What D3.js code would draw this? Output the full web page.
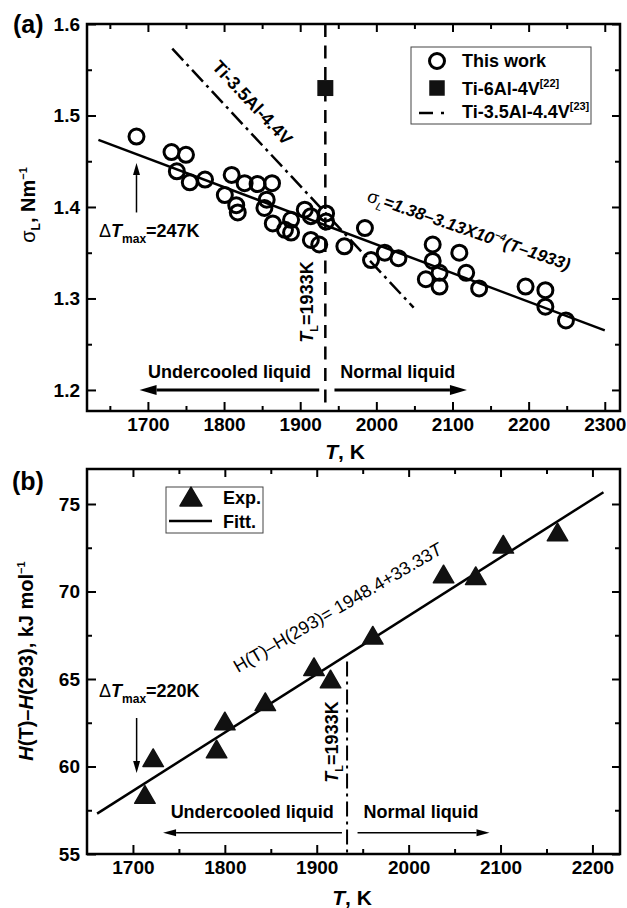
<!DOCTYPE html>
<html><head><meta charset="utf-8">
<script src="https://cdn.jsdelivr.net/npm/d3@7"></script>
<style>body{margin:0;background:#fff} text{font-family:"Liberation Sans",Arial,sans-serif}</style>
</head><body><svg id="c" width="627" height="908"></svg>
<script>
// ---------- Panel (a) data ----------
const circT = [1685,1731,1750,1738,1755,1775,1810,1801,1827,1844,1816,1818,1863,1856,1853,1864,1888,1880,1888,1906,1914,1934,1934,1914,1925,1958,1985,1993,2011,2029,2074,2074,2065,2083,2083,2109,2118,2135,2196,2222,2222,2249];
const circS = [1.477,1.460,1.457,1.439,1.427,1.430,1.435,1.413,1.426,1.425,1.402,1.394,1.426,1.408,1.399,1.382,1.386,1.375,1.372,1.397,1.390,1.393,1.384,1.364,1.359,1.357,1.377,1.342,1.350,1.344,1.359,1.341,1.321,1.328,1.313,1.350,1.328,1.311,1.313,1.309,1.291,1.276];
const ti64T = [1933];
const ti64S = [1.53];
const ti35LineT = [1732, 2049];
const ti35LineS = [1.573, 1.290];
const fitALineT = [1635, 2300];
const fitA0 = 1.38, fitASlope = -3.13e-4, fitARef = 1933;
const TL = 1933;
const xTicksA = [1700,1800,1900,2000,2100,2200,2300];
const xMinorA = [1650,1750,1850,1950,2050,2150,2250];
const yTicksA = [1.2,1.3,1.4,1.5,1.6];
const yMinorA = [1.25,1.35,1.45,1.55];

// ---------- Panel (b) data ----------
const expT = [1713,1722,1791,1800,1844,1897,1915,1961,2038,2073,2103,2162];
const expH = [58.4,60.5,61.0,62.6,63.7,65.7,65.0,67.5,71.0,70.9,72.7,73.4];
const fitBLineT = [1661, 2212];
const fitB0 = 1.9484, fitBSlope = 0.03333; // kJ/mol
const xTicksB = [1700,1800,1900,2000,2100,2200];
const xMinorB = [1750,1850,1950,2050,2150];
const yTicksB = [55,60,65,70,75];
const yMinorB = [57.5,62.5,67.5,72.5];

const svg = d3.select("#c");
const FONT = '"Liberation Sans",Arial,sans-serif';

function frame(g, x, y, xMaj, xMin, yMaj, yMin, yFmt) {
  const [x0, x1] = x.range(), [y0, y1] = y.range();
  const style = s => s.call(a => a.select(".domain").remove())
    .attr("font-size", 19).attr("font-weight", "bold").attr("font-family", FONT)
    .call(a => a.selectAll("line").attr("stroke-width", 2));
  g.append("g").attr("transform", `translate(0,${y0})`)
    .call(d3.axisBottom(x).tickValues(xMaj).tickSize(-9).tickPadding(7).tickFormat(d3.format("d"))).call(style);
  g.append("g").attr("transform", `translate(0,${y0})`)
    .call(d3.axisBottom(x).tickValues(xMin).tickSize(-5).tickFormat("")).call(style);
  g.append("g").attr("transform", `translate(0,${y1})`)
    .call(d3.axisTop(x).tickValues(xMaj).tickSize(-8).tickFormat("")).call(style);
  g.append("g").attr("transform", `translate(0,${y1})`)
    .call(d3.axisTop(x).tickValues(xMin).tickSize(-5).tickFormat("")).call(style);
  g.append("g").attr("transform", `translate(${x0},0)`)
    .call(d3.axisLeft(y).tickValues(yMaj).tickSize(-9).tickPadding(7).tickFormat(yFmt)).call(style);
  g.append("g").attr("transform", `translate(${x0},0)`)
    .call(d3.axisLeft(y).tickValues(yMin).tickSize(-5).tickFormat("")).call(style);
  g.append("g").attr("transform", `translate(${x1},0)`)
    .call(d3.axisRight(y).tickValues(yMaj).tickSize(-8).tickFormat("")).call(style);
  g.append("g").attr("transform", `translate(${x1},0)`)
    .call(d3.axisRight(y).tickValues(yMin).tickSize(-5).tickFormat("")).call(style);
  g.append("rect").attr("x", x0).attr("y", y1).attr("width", x1 - x0).attr("height", y0 - y1)
    .attr("fill", "none").attr("stroke", "#000").attr("stroke-width", 2.5);
}

function rich(g, x, y, rot, parts, anchor) {
  const t = g.append("text").attr("transform", `translate(${x},${y}) rotate(${rot})`)
    .attr("text-anchor", anchor || "start").attr("fill", "#000");
  parts.forEach(p => {
    const s = t.append("tspan").text(p.t)
      .attr("font-size", p.size || 18)
      .attr("font-weight", p.w || "bold")
      .attr("font-style", p.i ? "italic" : "normal");
    if (p.dy) s.attr("dy", p.dy);
  });
  return t;
}

function arrow(g, x1, y1, x2, y2, lw, hl, hw) {
  const a = Math.atan2(y2 - y1, x2 - x1);
  const bx = x2 - hl * Math.cos(a), by = y2 - hl * Math.sin(a);
  g.append("line").attr("x1", x1).attr("y1", y1).attr("x2", bx).attr("y2", by)
    .attr("stroke", "#000").attr("stroke-width", lw);
  const px = -Math.sin(a) * hw, py = Math.cos(a) * hw;
  g.append("path").attr("d", `M${x2},${y2}L${bx + px},${by + py}L${bx - px},${by - py}Z`).attr("fill", "#000");
}

// ================= Panel (a) =================
const xA = d3.scaleLinear().domain([1620, 2320]).range([87, 620]);
const yA = d3.scaleLinear().domain([1.177, 1.6]).range([411, 24]);
const gA = svg.append("g");
frame(gA, xA, yA, xTicksA, xMinorA, yTicksA, yMinorA, d3.format(".1f"));

// T_L dashed vertical
gA.append("line").attr("x1", xA(TL)).attr("x2", xA(TL)).attr("y1", yA(1.6)).attr("y2", yA(1.177))
  .attr("stroke", "#000").attr("stroke-width", 2.5).attr("stroke-dasharray", "13,8.5");

// Ti-3.5Al-4.4V dash-dot line
gA.append("path").datum(d3.zip(ti35LineT, ti35LineS))
  .attr("d", d3.line().x(d => xA(d[0])).y(d => yA(d[1])))
  .attr("stroke", "#000").attr("stroke-width", 2.5).attr("fill", "none").attr("stroke-dasharray", "16,5,3,5");

// fit line
gA.append("path").datum(fitALineT.map(t => [t, fitA0 + fitASlope * (t - fitARef)]))
  .attr("d", d3.line().x(d => xA(d[0])).y(d => yA(d[1])))
  .attr("stroke", "#000").attr("stroke-width", 2.5).attr("fill", "none");

// circles
gA.selectAll("circle.d").data(d3.zip(circT, circS)).join("circle").attr("class", "d")
  .attr("cx", d => xA(d[0])).attr("cy", d => yA(d[1])).attr("r", 7.5)
  .attr("fill", "none").attr("stroke", "#000").attr("stroke-width", 3);

// Ti-6Al-4V square
gA.selectAll("path.sq").data(d3.zip(ti64T, ti64S)).join("path").attr("class", "sq")
  .attr("transform", d => `translate(${xA(d[0])},${yA(d[1])})`)
  .attr("d", d3.symbol(d3.symbolSquare, 256)).attr("fill", "#111");

// Legend (a)
gA.append("rect").attr("x", 411).attr("y", 47).attr("width", 180).attr("height", 77)
  .attr("fill", "#fff").attr("stroke", "#444").attr("stroke-width", 1);
gA.append("circle").attr("cx", 437).attr("cy", 61).attr("r", 7.5).attr("fill", "none").attr("stroke", "#000").attr("stroke-width", 3);
rich(gA, 462, 66.7, 0, [{t: "This work"}]);
gA.append("path").attr("transform", "translate(437,88)").attr("d", d3.symbol(d3.symbolSquare, 240)).attr("fill", "#111");
rich(gA, 462, 95, 0, [{t: "Ti-6Al-4V"}, {t: "[22]", size: 11, dy: -8}]);
gA.append("line").attr("x1", 419).attr("x2", 433).attr("y1", 113).attr("y2", 113).attr("stroke", "#000").attr("stroke-width", 2.5);
gA.append("line").attr("x1", 441).attr("x2", 444).attr("y1", 113).attr("y2", 113).attr("stroke", "#000").attr("stroke-width", 2.5);
rich(gA, 462, 117.7, 0, [{t: "Ti-3.5Al-4.4V"}, {t: "[23]", size: 11, dy: -8}]);

// annotations (a)
rich(gA, 248, 107, 47, [{t: "Ti-3.5Al-4.4V", size: 18}], "middle");
rich(gA, 366, 201, 19, [
  {t: "σ", size: 18, w: "normal"}, {t: "L", size: 11, dy: 5, w: "normal", i: true},
  {t: "=1.38–3.13X10", size: 17, dy: -5, i: true}, {t: "−4", size: 10, dy: -7, i: true},
  {t: "(", size: 17, dy: 7, i: true}, {t: "T", size: 17, i: true}, {t: "–1933)", size: 17, i: true}
]);
rich(gA, 99, yA(1.209) + 0, 0, []).remove();
rich(gA, 99, 236.7, 0, [
  {t: "Δ", size: 18, w: "normal"}, {t: "T", size: 18, i: true},
  {t: "max", size: 12, dy: 6}, {t: "=247K", size: 18, dy: -6}
]);
arrow(gA, xA(1685), yA(1.394), xA(1685), yA(1.448), 1.5, 12, 3.5);
rich(gA, 313, 302, -90, [
  {t: "T", size: 18, i: true}, {t: "L", size: 11, dy: 5}, {t: "=1933K", size: 18, dy: -5}
], "middle");
rich(gA, xA(1700), yA(1.2135), 0, [{t: "Undercooled liquid"}]);
rich(gA, xA(1952.5), yA(1.2135), 0, [{t: "Normal liquid"}]);
arrow(gA, xA(1925), yA(1.2), xA(1689), yA(1.2), 3, 17, 5);
arrow(gA, xA(1945), yA(1.2), xA(2119), yA(1.2), 3, 17, 5);

// axis titles (a)
rich(gA, 35, 205, -90, [
  {t: "σ", size: 20, w: "normal"}, {t: "L", size: 12, dy: 5}, {t: ", Nm", size: 20, dy: -5},
  {t: "−1", size: 11, dy: -8}
], "middle");
rich(gA, 345, 459, 0, [{t: "T", size: 21, i: true}, {t: ", K", size: 21}], "middle");
rich(gA, 13, 33, 0, [{t: "(a)", size: 25}]);

// ================= Panel (b) =================
const xB = d3.scaleLinear().domain([1650, 2230]).range([87, 620]);
const yB = d3.scaleLinear().domain([55, 77]).range([854, 469]);
const gB = svg.append("g");
frame(gB, xB, yB, xTicksB, xMinorB, yTicksB, yMinorB, d3.format("d"));

// T_L dash-dot vertical
gB.append("line").attr("x1", xB(TL)).attr("x2", xB(TL)).attr("y1", yB(66.0)).attr("y2", yB(55))
  .attr("stroke", "#000").attr("stroke-width", 2).attr("stroke-dasharray", "15,5,3,5");

// fit line
gB.append("path").datum(fitBLineT.map(t => [t, fitB0 + fitBSlope * t]))
  .attr("d", d3.line().x(d => xB(d[0])).y(d => yB(d[1])))
  .attr("stroke", "#000").attr("stroke-width", 2.5).attr("fill", "none");

// triangles
const tri = {draw(ctx, size) { const w = size / 2, h = size * 0.43;
  ctx.moveTo(0, -h); ctx.lineTo(w, h); ctx.lineTo(-w, h); ctx.closePath(); }};
gB.selectAll("path.tri").data(d3.zip(expT, expH)).join("path").attr("class", "tri")
  .attr("transform", d => `translate(${xB(d[0])},${yB(d[1])})`)
  .attr("d", d3.symbol(tri, 20.5)).attr("fill", "#111").attr("stroke", "#111")
  .attr("stroke-width", 1.5).attr("stroke-linejoin", "round");

// Legend (b)
gB.append("rect").attr("x", 166).attr("y", 487).attr("width", 97).attr("height", 46)
  .attr("fill", "none").attr("stroke", "#444").attr("stroke-width", 1);
gB.append("path").attr("transform", "translate(191,496.5)").attr("d", d3.symbol(tri, 22))
  .attr("fill", "#111").attr("stroke", "#111").attr("stroke-width", 1.5).attr("stroke-linejoin", "round");
rich(gB, 223, 504, 0, [{t: "Exp."}]);
gB.append("line").attr("x1", 169).attr("x2", 212).attr("y1", 521).attr("y2", 521).attr("stroke", "#000").attr("stroke-width", 2.5);
rich(gB, 223, 528, 0, [{t: "Fitt."}]);

// annotations (b)
rich(gB, 238, 673, -30.3, [
  {t: "H(T)–H(293)= 1948.4+33.33", size: 18, w: "normal"}, {t: "T", size: 18, w: "normal", i: true}
]);
rich(gB, 99, yB(63.97), 0, [
  {t: "Δ", size: 18, w: "normal"}, {t: "T", size: 18, i: true},
  {t: "max", size: 12, dy: 6}, {t: "=220K", size: 18, dy: -6}
]);
arrow(gB, xB(1704), yB(62.77), xB(1704), yB(59.63), 1.5, 12, 3.5);
rich(gB, 338, 742, -90, [
  {t: "T", size: 18, i: true}, {t: "L", size: 11, dy: 5}, {t: "=1933K", size: 18, dy: -5}
], "middle");
rich(gB, xB(1741), yB(57.06), 0, [{t: "Undercooled liquid"}]);
rich(gB, xB(1951), yB(57.06), 0, [{t: "Normal liquid"}]);
arrow(gB, xB(1927.4), yB(56.22), xB(1732.8), yB(56.22), 1.5, 13, 3.5);
arrow(gB, xB(1944.4), yB(56.22), xB(2088), yB(56.22), 1.5, 13, 3.5);

// axis titles (b)
rich(gB, 33, 661, -90, [
  {t: "H", size: 20, i: true}, {t: "(T)–", size: 20}, {t: "H", size: 20, i: true},
  {t: "(293), kJ mol", size: 20}, {t: "−1", size: 11, dy: -8}
], "middle");
rich(gB, 352, 905, 0, [{t: "T", size: 21, i: true}, {t: ", K", size: 21}], "middle");
rich(gB, 12, 490, 0, [{t: "(b)", size: 25}]);
</script></body></html>
